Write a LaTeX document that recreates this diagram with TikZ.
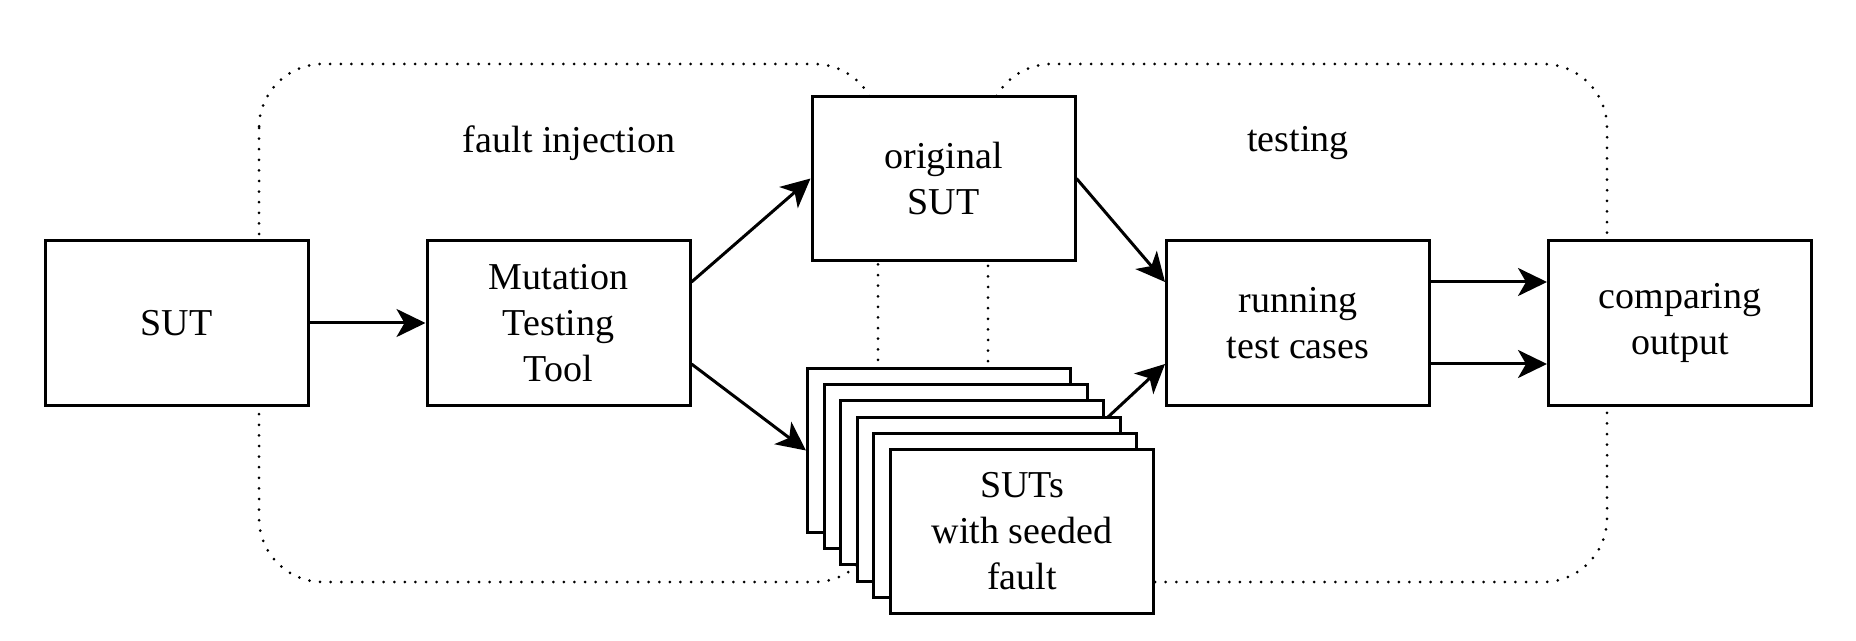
\documentclass[tikz,border=0pt]{standalone}
\usepackage{fontspec}
\setmainfont{Liberation Serif}
\usetikzlibrary{arrows.meta,positioning,backgrounds}

\begin{document}
\begin{tikzpicture}[x=0.5pt,y=-0.5pt,
    box/.style={draw,line width=1.5pt,fill=white,minimum width=131.5pt,minimum height=82pt,
      align=center,inner sep=0pt,font=\fontsize{19}{23}\selectfont},
    flow/.style={line width=1.5pt,-{Stealth[length=14.5pt,width=14pt,inset=4pt]}},
    region/.style={line width=1.5pt,line cap=round,dash pattern=on 0pt off 5.3pt,rounded corners=32pt},
    caption/.style={font=\fontsize{19}{23}\selectfont}]
  \useasboundingbox (0,0) rectangle (1856,641);
  % main chain
  \node[box] (sut) at (176.5,323) {SUT};
  \node[box,right=58pt of sut] (mtt) {Mutation\\Testing\\Tool};
  \node[box] (orig) at (943.5,178.5) {original\\SUT};
  \node[box] (run) at (1298,323) {running\\test cases};
  \node[box,right=58pt of run] (cmp) {comparing\\output};
  % stack of mutants
  \foreach \k in {1,...,5}
    \node[box] (s\k) at ({939+16.6*(\k-1)},{450.5+16.2*(\k-1)}) {};
  \node[box] (s6) at (1022,531.5) {SUTs\\with seeded\\fault};
  \node[caption] (fi) at (569,143) {fault injection};
  \node[caption] (tst) at (1298,143) {testing};
  \draw[flow] (sut) -- (mtt);
  \draw[flow] ([yshift=20.5pt]mtt.east) -- (orig.west);
  \draw[flow] ([yshift=-20.5pt]mtt.east) -- (s1.west);
  \draw[flow] (orig.east) -- ([yshift=20.5pt]run.west);
  \draw[flow] ([yshift=20.5pt]run.east) -- ([yshift=20.5pt]cmp.west);
  \draw[flow] ([yshift=-20.5pt]run.east) -- ([yshift=-20.5pt]cmp.west);
  \begin{pgfonlayer}{background}
    \fill[white] (0,0) rectangle (1856,641);
    \draw[region] (259,64) rectangle (878,582);
    \draw[region] (988,64) rectangle (1607,582);
    \draw[flow] (s1.east) -- ([yshift=-20.5pt]run.west);
  \end{pgfonlayer}
\end{tikzpicture}
\end{document}
